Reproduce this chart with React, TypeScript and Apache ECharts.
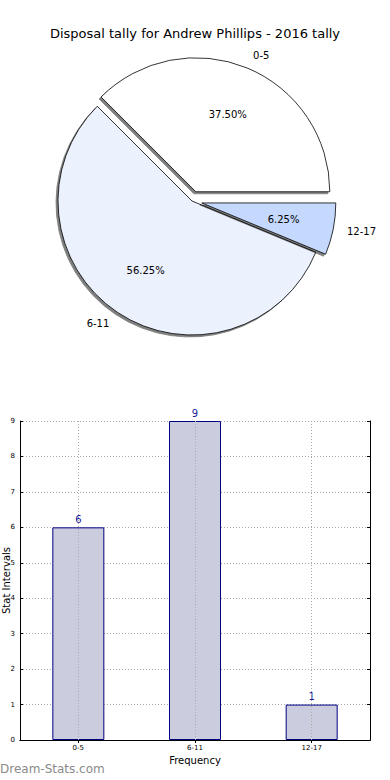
import React, { useEffect, useRef } from "react";
import * as echarts from "echarts";

const titleText = "Disposal tally for Andrew Phillips - 2016 tally";
const categories = ["0-5", "6-11", "12-17"];
const counts = [6, 9, 1];
const sliceColors = ["#ffffff", "#ebf1fd", "#c5d9fe"];
const exploded = [true, false, true];
const yMax = 9;
const xAxisName = "Frequency";
const yAxisName = "Stat Intervals";
const watermark = "Dream-Stats.com";

const FONT = "DejaVu Sans";

export default function App() {
  const ref = useRef<HTMLDivElement>(null);
  useEffect(() => {
    if (!ref.current) return;
    const chart = echarts.init(ref.current, undefined, { renderer: "svg" });
    const center = [192, 201];
    const R = 134;
    const pieData = categories.map((c, i) => ({
      name: c,
      value: counts[i],
      selected: exploded[i],
      itemStyle: { color: sliceColors[i] },
    }));
    const common = {
      type: "pie",
      center,
      startAngle: 0,
      clockwise: false,
      selectedMode: "multiple",
      selectedOffset: 10,
      avoidLabelOverlap: false,
      silent: true,
      emphasis: { disabled: true },
    };
    const dotted = { type: [1, 2], color: "#aaaaaa", width: 1 };
    const option: any = {
      animation: false,
      backgroundColor: "#ffffff",
      title: {
        text: titleText,
        left: "center",
        top: 22,
        textStyle: { fontFamily: FONT, fontSize: 13, fontWeight: "normal", color: "#000" },
      },
      graphic: [
        {
          type: "text",
          left: 0,
          top: 763,
          style: {
            text: watermark,
            fill: "#8a8a8a",
            font: `12px ${FONT}`,
          },
        },
      ],
      grid: {
        left: 20,
        right: 20,
        top: 421,
        height: 319,
        containLabel: false,
        outerBoundsMode: "none",
      },
      xAxis: [
        {
          type: "category",
          data: categories,
          position: "bottom",
          axisLine: { show: true, lineStyle: { color: "#000", width: 1 } },
          axisTick: { show: true, inside: true, alignWithLabel: true, length: 3, lineStyle: { color: "#000" } },
          axisLabel: { fontFamily: FONT, fontSize: 7, color: "#000", margin: 4 },
          splitLine: { show: false },
          name: xAxisName,
          nameLocation: "middle",
          nameGap: 15,
          nameMoveOverlap: false,
          nameTextStyle: { fontFamily: FONT, fontSize: 10, color: "#000" },
        },
        {
          type: "category",
          data: categories,
          position: "top",
          axisLine: { show: true, lineStyle: { color: "#000", width: 1 } },
          axisTick: { show: true, inside: true, alignWithLabel: true, length: 3, lineStyle: { color: "#000" } },
          axisLabel: { show: false },
          splitLine: { show: false },
        },
      ],
      yAxis: [
        {
          type: "value",
          min: 0,
          max: yMax,
          interval: 1,
          position: "left",
          axisLine: { show: true, lineStyle: { color: "#000", width: 1 } },
          axisTick: { show: true, inside: true, length: 3, lineStyle: { color: "#000" } },
          axisLabel: { fontFamily: FONT, fontSize: 7, color: "#000", margin: 5 },
          splitLine: { show: true, lineStyle: dotted },
          name: yAxisName,
          nameLocation: "middle",
          nameGap: 9,
          nameMoveOverlap: false,
          nameTextStyle: { fontFamily: FONT, fontSize: 10, lineHeight: 10, color: "#000" },
        },
        {
          type: "value",
          min: 0,
          max: yMax,
          interval: 1,
          position: "right",
          axisLine: { show: true, lineStyle: { color: "#000", width: 1 } },
          axisTick: { show: true, inside: true, length: 3, lineStyle: { color: "#000" } },
          axisLabel: { show: false },
          splitLine: { show: false },
        },
      ],
      series: [
        {
          ...common,
          name: "slices",
          radius: R,
          label: { show: false },
          labelLine: { show: false },
          data: pieData,
          itemStyle: {
            borderColor: "#000",
            borderWidth: 0.8,
            shadowColor: "rgba(0,0,0,0.5)",
            shadowBlur: 0,
            shadowOffsetX: -2,
            shadowOffsetY: 2,
          },
        },
        {
          ...common,
          name: "percent",
          radius: R * 1.2,
          data: pieData.map((d) => ({ ...d, itemStyle: { color: "transparent" } })),
          itemStyle: { color: "transparent", borderWidth: 0 },
          label: {
            show: true,
            position: "inside",
            formatter: (p: any) => p.percent.toFixed(2) + "%",
            fontFamily: FONT,
            fontSize: 10,
            color: "#000",
          },
          labelLine: { show: false },
        },
        {
          ...common,
          name: "names",
          radius: R,
          data: pieData.map((d) => ({ ...d, itemStyle: { color: "transparent" } })),
          itemStyle: { color: "transparent", borderWidth: 0 },
          label: {
            show: true,
            position: "outside",
            formatter: "{b}",
            fontFamily: FONT,
            fontSize: 10,
            color: "#000",
            distanceToLabelLine: 0,
          },
          labelLine: { show: false, length: 13, length2: 1 },
        },
        {
          type: "bar",
          name: "counts",
          xAxisIndex: 0,
          yAxisIndex: 0,
          data: counts,
          barWidth: 52,
          itemStyle: { color: "#ccccdf", borderColor: "#000080", borderWidth: 1 },
          label: {
            show: true,
            position: "top",
            distance: 3,
            fontFamily: FONT,
            fontSize: 10,
            color: "#1a1a99",
          },
          markLine: {
            silent: true,
            symbol: "none",
            label: { show: false },
            lineStyle: dotted,
            data: categories.map((c) => ({ xAxis: c })),
          },
          silent: true,
          z: 1,
        },
      ],
    };
    chart.setOption(option);
    return () => chart.dispose();
  }, []);
  return (
    <div
      ref={ref}
      style={{ position: "absolute", left: 0, top: 0, width: 390, height: 780 }}
    />
  );
}
